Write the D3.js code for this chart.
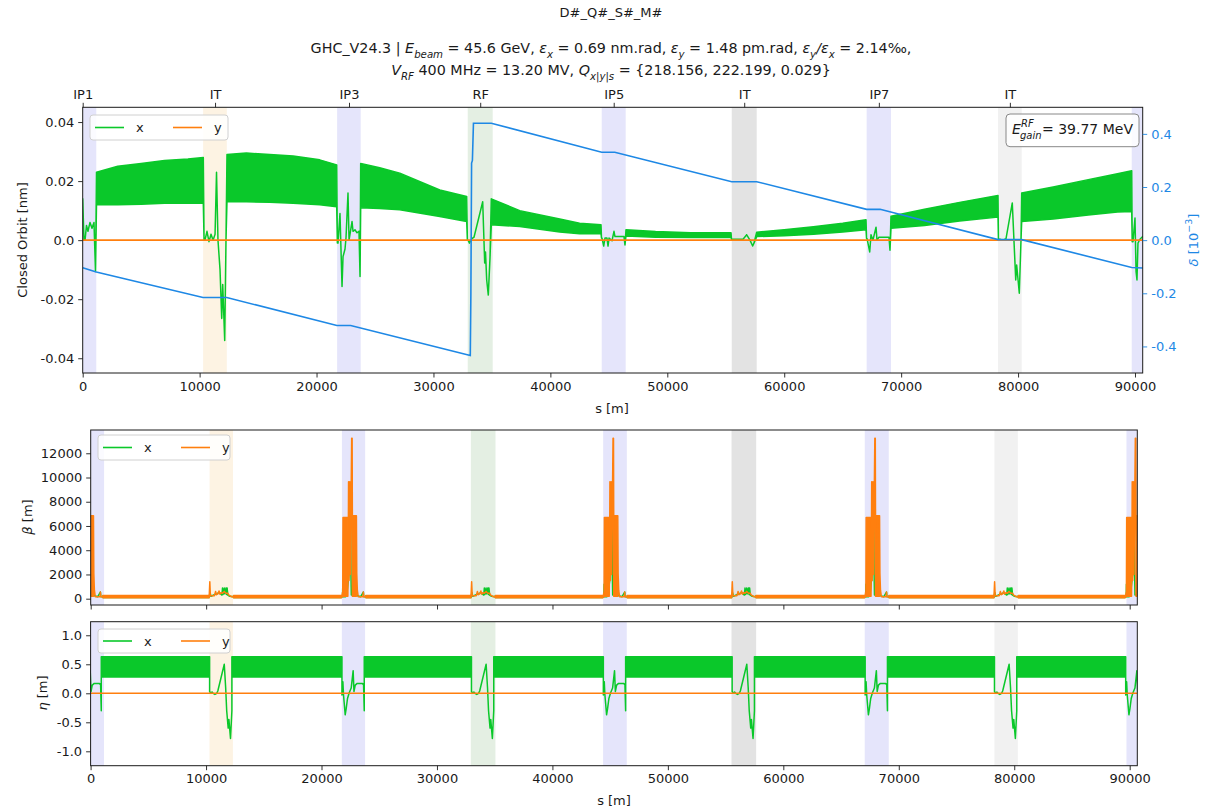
<!DOCTYPE html>
<html>
<head>
<meta charset="utf-8">
<script src="https://cdnjs.cloudflare.com/ajax/libs/d3/7.8.5/d3.min.js"></script>
<style>
  body { margin: 0; background: #fff; }
  text { font-family: "DejaVu Sans", sans-serif; font-size: 13px; fill: #1a1a1a; }
  text.sub-title { font-size: 14.3px; }
</style>
</head>
<body>
<svg id="fig" width="1213" height="809"></svg>
<script>
// ring layout [m]
var ringLength = 90659;
var regionNames = ["IP1", "IT", "IP3", "RF", "IP5", "IT", "IP7", "IT"];
var regionS = [0, 11318, 22776, 33998, 45416, 56577, 68093, 79298];
var bandStart = [0, 10300, 21760, 32930, 44390, 55510, 67050, 78285, 89720];
var bandEnd = [1160, 12325, 23775, 35065, 46440, 57645, 69130, 80310, 90659];
var ipS = [0, 22776, 45416, 68093, 90659];
var itS = [11318, 33998, 56577, 79298];

var xTickValues = [0, 10000, 20000, 30000, 40000, 50000, 60000, 70000, 80000, 90000];
var orbitTicks = [-0.04, -0.02, 0, 0.02, 0.04];
var deltaTicks = [-0.4, -0.2, 0, 0.2, 0.4];
var betaTicks = [0, 2000, 4000, 6000, 8000, 10000, 12000];
var etaTicks = [-1, -0.5, 0, 0.5, 1];

// closed orbit x [nm] in the insertions: [s, value]
var orbitXIns = [
  [[0, 0.014], [110, 0.0], [200, 0.0], [325, 0.005], [450, 0.003], [625, 0.006], [795, 0.004], [965, 0.006], [1095, -0.0106]],
  [[10380, 0.0], [10460, 0.0], [10630, 0.003], [10800, -0.0005], [10975, 0.002], [11150, 0.0], [11320, 0.002], [11445, 0.023], [11570, 0.0], [11745, -0.01], [11890, -0.0265], [11975, -0.015], [12145, -0.034], [12255, 0.0]],
  [[21780, -0.001], [21835, -0.001], [22005, 0.009], [22180, -0.0157], [22265, -0.0056], [22435, -0.003], [22520, 0.0008], [22690, 0.016], [22780, 0.0], [23035, 0.0063], [23120, 0.003], [23290, 0.0035], [23460, 0.0025], [23630, 0.003], [23720, -0.0123]],
  [[32900, 0.0], [32955, 0.0], [33080, -0.001], [33210, 0.0], [33296, 0.0005], [33467, 0.001], [34211, 0.013], [34382, -0.0077], [34450, -0.004], [34553, -0.0135], [34690, -0.0186], [34835, -0.006]],
  [[44370, 0.0007], [44415, 0.0007], [44560, -0.002], [44670, 0.0007], [44840, 0.0007], [44930, -0.002], [45015, 0.0007], [45270, -0.0002], [45440, 0.003], [45525, 0.0012], [46295, 0.0012], [46380, -0.0016]],
  [[55490, 0.0003], [55535, 0.0003], [56475, 0.0003], [56790, 0.0018], [57070, 0.0], [57300, -0.002], [57410, -0.001]],
  [[67040, 0.0006], [67080, 0.0006], [67310, -0.004], [67420, 0.0018], [67590, 0.0], [67850, 0.0044], [67935, 0.0], [68105, 0.001], [68960, 0.001], [69045, -0.0034]],
  [[78320, 0.0003], [78455, 0.0003], [78710, 0.0], [78970, 0.0005], [79505, 0.0126], [79800, -0.0135], [79880, -0.0084], [80105, -0.018], [80250, 0.0]],
  [[89760, -0.0005], [89830, -0.0005], [90000, 0.0075], [90090, -0.0106], [90170, -0.0135], [90255, -0.001], [90425, 0.0003], [90659, 0.0012]]
];
// closed orbit x [nm] in the arcs: [s, low edge, high edge]
var orbitXArcs = [
  [[1180, 0.012, 0.023], [3000, 0.012, 0.025], [5000, 0.0122, 0.026], [7000, 0.0125, 0.027], [9000, 0.0125, 0.0275], [10315, 0.0125, 0.028]],
  [[12340, 0.013, 0.029], [14000, 0.013, 0.0295], [16000, 0.0128, 0.029], [18000, 0.0125, 0.0285], [20270, 0.012, 0.0272], [21725, 0.0113, 0.0255]],
  [[23775, 0.011, 0.026], [25400, 0.0107, 0.0245], [27120, 0.0103, 0.0227], [30540, 0.008, 0.017], [32843, 0.0063, 0.0148]],
  [[34946, 0.0052, 0.014], [37380, 0.0046, 0.010], [40800, 0.0028, 0.0072], [42500, 0.0022, 0.0057], [44330, 0.0022, 0.0052]],
  [[46465, 0.0014, 0.0035], [49000, 0.001, 0.0029], [52000, 0.0009, 0.0025], [55450, 0.001, 0.0025]],
  [[57645, 0.0012, 0.0027], [60000, 0.0015, 0.0035], [62500, 0.002, 0.0045], [65000, 0.0028, 0.0057], [66995, 0.0035, 0.0069]],
  [[69130, 0.004, 0.0081], [72000, 0.005, 0.0105], [75000, 0.0065, 0.0128], [78284, 0.0078, 0.0151]],
  [[80310, 0.0063, 0.016], [83000, 0.0072, 0.018], [86000, 0.0085, 0.0205], [88500, 0.0095, 0.0225], [89720, 0.0097, 0.0235]]
];
var orbitY = [[0, 0], [90659, 0]];

// relative momentum deviation [1e-3]
var deltaS = [0, 1160, 10290, 12320, 21740, 22920, 33150, 33200, 33260, 33330, 33420, 34950, 44390, 45510, 55510, 57650, 67050, 68200, 78290, 80310, 89720, 90659];
var deltaV = [-0.104, -0.12, -0.216, -0.216, -0.321, -0.321, -0.434, -0.2, 0.29, 0.3, 0.44, 0.44, 0.331, 0.331, 0.22, 0.22, 0.116, 0.116, 0.002, 0.002, -0.103, -0.105];

// beta functions [m], offsets from the IP / IT centre: [ds, value] or [ds, low, high]
var betaIPX = [[-1058, 160], [-960, 160], [-940, 1200], [-900, 160], [-700, 160], [-650, 2500], [-600, 300], [-300, 2900], [-262, 8140], [-230, 2000], [-200, 300], [0, 300], [100, 2000], [150, 300], [600, 160], [840, 550], [880, 160], [1058, 160]];
var betaIPY = [[-1058, 160], [-1000, 160], [-975, 500], [-945, 160], [-920, 200, 6700], [-500, 200, 6700], [-470, 3000], [-440, 9650], [-400, 1500], [-330, 9650], [-290, 2000], [-170, 13230], [-130, 13230], [-110, 200, 6850], [240, 200, 6850], [270, 2100], [320, 700], [400, 160], [800, 160], [840, 550], [880, 160], [1058, 160]];
var betaITX = [[-1054, 160], [-980, 500], [-900, 200], [-200, 500], [50, 300], [100, 880], [150, 350], [250, 880], [300, 400], [400, 880], [450, 350], [500, 880], [560, 300], [700, 200], [1054, 160]];
var betaITY = [[-1054, 160], [-1000, 1400], [-950, 250], [-600, 250], [-500, 600], [-420, 330], [-300, 400], [-200, 640], [-120, 380], [0, 500], [100, 450], [250, 600], [400, 450], [550, 450], [650, 300], [900, 160], [1054, 160]];
var betaArcX = [90, 240];
var betaArcY = [70, 260];

// dispersion [m], offsets from the IP / IT centre
var etaIPX = [[-1005, -0.03], [-925, 0.2], [-870, -0.03], [-725, -0.37], [-635, -0.26], [-525, -0.09], [-375, 0.01], [-205, 0.09], [-35, 0.39], [35, 0.03], [145, 0.14], [315, 0.17], [745, 0.17], [865, 0.15], [925, -0.3]];
var etaITX = [[-1010, 0.03], [-900, 0.0], [-800, 0.02], [-700, 0.0], [-550, -0.02], [-400, 0.0], [-300, 0.04], [260, 0.5], [380, 0.1], [470, -0.3], [600, -0.6], [660, -0.45], [800, -0.78], [920, -0.3]];
var etaArcX = [0.28, 0.63];
var etaY = [[0, 0], [90659, 0]];

var eGain = "= 39.77 MeV";

// styles
var colX = "#0ac82a", colY = "#ff7f0e", colDelta = "#1e88e5";
var bandColor = ["#e5e5fb", "#fdf3e3", "#e5e5fb", "#e4efe3", "#e5e5fb", "#e3e3e3", "#e5e5fb", "#f1f1f1", "#e5e5fb"];

var svg = d3.select("#fig");
var clipCount = 0;

var fmtDash = function (f) {
    return function (v) { return v === 0 ? "0.0" : d3.format(f)(v).replace("\u2212", "-"); };
};

function panel(box, yDomain) {
    var x = d3.scaleLinear().domain([0, ringLength]).range([box.left, box.right]);
    var y = d3.scaleLinear().domain(yDomain).range([box.bottom, box.top]);
    var id = "clip" + (clipCount++);
    svg.append("clipPath").attr("id", id).append("rect")
        .attr("x", box.left).attr("y", box.top)
        .attr("width", box.right - box.left).attr("height", box.bottom - box.top);
    var g = svg.append("g");
    var plot = g.append("g").attr("clip-path", "url(#" + id + ")");
    plot.selectAll("rect").data(bandStart).enter().append("rect")
        .attr("x", function (d) { return x(d); })
        .attr("width", function (d, i) { return x(bandEnd[i]) - x(d); })
        .attr("y", box.top).attr("height", box.bottom - box.top)
        .attr("fill", function (d, i) { return bandColor[i]; });
    return { x: x, y: y, g: g, plot: plot, box: box };
}

function envelope(p, pts, color, y) {
    y = y || p.y;
    var area = d3.area()
        .x(function (d) { return p.x(d[0]); })
        .y0(function (d) { return y(d[1]); })
        .y1(function (d) { return y(d.length > 2 ? d[2] : d[1]); });
    p.plot.append("path").datum(pts).attr("d", area)
        .attr("fill", color).attr("stroke", color)
        .attr("stroke-width", 1.5).attr("stroke-linejoin", "round");
}

function line(p, pts, color, y) {
    y = y || p.y;
    var l = d3.line().x(function (d) { return p.x(d[0]); }).y(function (d) { return y(d[1]); });
    p.plot.append("path").datum(pts).attr("d", l)
        .attr("fill", "none").attr("stroke", color).attr("stroke-width", 1.6);
}

function styleAxis(a, color) {
    a.attr("font-size", null).attr("font-family", null);
    a.select(".domain").remove();
    a.selectAll("line").attr("stroke", color || "#1a1a1a").attr("stroke-width", 0.9);
    if (color) a.selectAll("text").style("fill", color);
}

function axes(p, ticks, fmt, xLabels) {
    var b = p.box;
    styleAxis(p.g.append("g").attr("transform", "translate(" + b.left + ",0)")
        .call(d3.axisLeft(p.y).tickValues(ticks).tickFormat(fmt).tickSize(4.5).tickPadding(4).tickSizeOuter(0)));
    styleAxis(p.g.append("g").attr("transform", "translate(0," + b.bottom + ")")
        .call(d3.axisBottom(p.x).tickValues(xTickValues)
            .tickFormat(xLabels ? d3.format("d") : function () { return ""; })
            .tickSize(4.5).tickPadding(4).tickSizeOuter(0)));
    p.g.append("rect").attr("x", b.left).attr("y", b.top)
        .attr("width", b.right - b.left).attr("height", b.bottom - b.top)
        .attr("fill", "none").attr("stroke", "#1a1a1a").attr("stroke-width", 1);
}

function legend(p, dx, dy, w, h) {
    var x0 = p.box.left + dx, y0 = p.box.top + dy;
    var g = p.g.append("g");
    g.append("rect").attr("x", x0).attr("y", y0).attr("width", w).attr("height", h)
        .attr("rx", 3).attr("fill", "rgba(255,255,255,0.85)").attr("stroke", "#d0d0d0");
    [["x", colX, 5], ["y", colY, 83]].forEach(function (it) {
        g.append("line").attr("x1", x0 + it[2]).attr("x2", x0 + it[2] + 29)
            .attr("y1", y0 + h / 2).attr("y2", y0 + h / 2)
            .attr("stroke", it[1]).attr("stroke-width", 1.6);
        g.append("text").attr("x", x0 + it[2] + 41).attr("y", y0 + h / 2 + 4.5).text(it[0]);
    });
}

function yLabel(x, y, parts, color) {
    var t = svg.append("text").attr("transform", "translate(" + x + "," + y + ") rotate(-90)")
        .attr("text-anchor", "middle");
    if (color) t.style("fill", color);
    rich(t, parts, 9.5);
}

function rich(t, parts, small) {
    var shift = 0;
    parts.forEach(function (p) {
        var target = p.sub ? 4.5 : (p.sup ? -6 : 0);
        var s = t.append("tspan").attr("dy", target - shift).text(p.t);
        if (p.it) s.style("font-style", "italic");
        if (p.sub || p.sup) s.style("font-size", small + "px");
        shift = target;
    });
}

// build ring-wide series from repeated insertion shapes
function ring(ipShape, itShape, arc) {
    var centres = ipS.map(function (s) { return { s: s, sh: ipShape }; })
        .concat(itS.map(function (s) { return { s: s, sh: itShape }; }))
        .sort(function (a, b) { return a.s - b.s; });
    var pts = [];
    centres.forEach(function (c, i) {
        c.sh.forEach(function (d) { pts.push([c.s + d[0], d[1], d.length > 2 ? d[2] : d[1]]); });
        if (i < centres.length - 1) {
            var n = centres[i + 1];
            pts.push([c.s + c.sh[c.sh.length - 1][0], arc[0], arc[1]]);
            pts.push([n.s + n.sh[0][0], arc[0], arc[1]]);
        }
    });
    return pts;
}

// ---------- top panel: closed orbit + delta
var topP = panel({ left: 82.7, right: 1142.7, top: 107.3, bottom: 373 }, [-0.045, 0.045]);
var yDelta = d3.scaleLinear().domain([-0.5, 0.5]).range([373, 107.3]);
var orbitX = [];
orbitXIns.forEach(function (ins, i) {
    orbitX = orbitX.concat(ins);
    if (i < orbitXArcs.length) orbitX = orbitX.concat(orbitXArcs[i]);
});
envelope(topP, orbitX, colX);
line(topP, orbitY, colY);
line(topP, deltaS.map(function (s, i) { return [s, deltaV[i]]; }), colDelta, yDelta);
axes(topP, orbitTicks, fmtDash(".2f"), true);
styleAxis(topP.g.append("g").attr("transform", "translate(1142.7,0)")
    .call(d3.axisRight(yDelta).tickValues(deltaTicks).tickFormat(fmtDash(".1f")).tickSize(4.5).tickPadding(4).tickSizeOuter(0)), colDelta);
styleAxis(topP.g.append("g").attr("transform", "translate(0,107.3)")
    .call(d3.axisTop(topP.x).tickValues(regionS).tickFormat(function (d, i) { return regionNames[i]; })
        .tickSize(4.5).tickPadding(4).tickSizeOuter(0)));
legend(topP, 7.3, 7.7, 138, 25);

// energy gain box
var eg = topP.g.append("g");
eg.append("rect").attr("x", 1006).attr("y", 114).attr("width", 133).attr("height", 32.7)
    .attr("rx", 4).attr("fill", "rgba(255,255,255,0.85)").attr("stroke", "#888");
eg.append("text").attr("x", 1012).attr("y", 134).style("font-style", "italic").style("font-size", "14px").text("E");
eg.append("text").attr("x", 1021).attr("y", 127).style("font-style", "italic").style("font-size", "10px").text("RF");
eg.append("text").attr("x", 1020).attr("y", 139).style("font-style", "italic").style("font-size", "10px").text("gain");
eg.append("text").attr("x", 1042).attr("y", 134).style("font-size", "14px").text(eGain);

// ---------- middle panel: beta
var midP = panel({ left: 90.7, right: 1137.3, top: 430, bottom: 605 }, [-520, 13920]);
envelope(midP, ring(betaIPX, betaITX, betaArcX), colX);
envelope(midP, ring(betaIPY, betaITY, betaArcY), colY);
axes(midP, betaTicks, d3.format("d"), false);
legend(midP, 7.3, 5, 132, 25);

// ---------- bottom panel: dispersion
var botP = panel({ left: 90.6, right: 1137.3, top: 621.7, bottom: 765.7 }, [-1.248, 1.234]);
envelope(botP, ring(etaIPX, etaITX, etaArcX), colX);
line(botP, etaY, colY);
axes(botP, etaTicks, fmtDash(".1f"), true);
legend(botP, 7.4, 7.3, 132, 24);

// ---------- labels
svg.append("text").attr("x", 611).attr("y", 17).attr("text-anchor", "middle").text("D#_Q#_S#_M#");
rich(svg.append("text").attr("class", "sub-title").attr("x", 611).attr("y", 53).attr("text-anchor", "middle"), [
    { t: "GHC_V24.3 | " }, { t: "E", it: 1 }, { t: "beam", it: 1, sub: 1 }, { t: " = 45.6 GeV, " },
    { t: "\u03b5", it: 1 }, { t: "x", it: 1, sub: 1 }, { t: " = 0.69 nm.rad, " },
    { t: "\u03b5", it: 1 }, { t: "y", it: 1, sub: 1 }, { t: " = 1.48 pm.rad, " },
    { t: "\u03b5", it: 1 }, { t: "y", it: 1, sub: 1 }, { t: "/", it: 1 }, { t: "\u03b5", it: 1 }, { t: "x", it: 1, sub: 1 },
    { t: " = 2.14\u2030," }
], 10.2);
rich(svg.append("text").attr("class", "sub-title").attr("x", 611).attr("y", 75).attr("text-anchor", "middle"), [
    { t: "V", it: 1 }, { t: "RF", it: 1, sub: 1 }, { t: " 400 MHz = 13.20 MV, " },
    { t: "Q", it: 1 }, { t: "x|y|s", it: 1, sub: 1 }, { t: " = {218.156, 222.199, 0.029}" }
], 10.2);
svg.append("text").attr("x", 612).attr("y", 413).attr("text-anchor", "middle").text("s [m]");
svg.append("text").attr("x", 614).attr("y", 805).attr("text-anchor", "middle").text("s [m]");
yLabel(27, 240, [{ t: "Closed Orbit [nm]" }]);
yLabel(32, 517, [{ t: "\u03b2", it: 1 }, { t: " [m]" }]);
yLabel(47, 693, [{ t: "\u03b7", it: 1 }, { t: " [m]" }]);
yLabel(1198, 240, [{ t: "\u03b4", it: 1 }, { t: " [10" }, { t: "\u22123", sup: 1 }, { t: "]" }], colDelta);
</script>
</body>
</html>
